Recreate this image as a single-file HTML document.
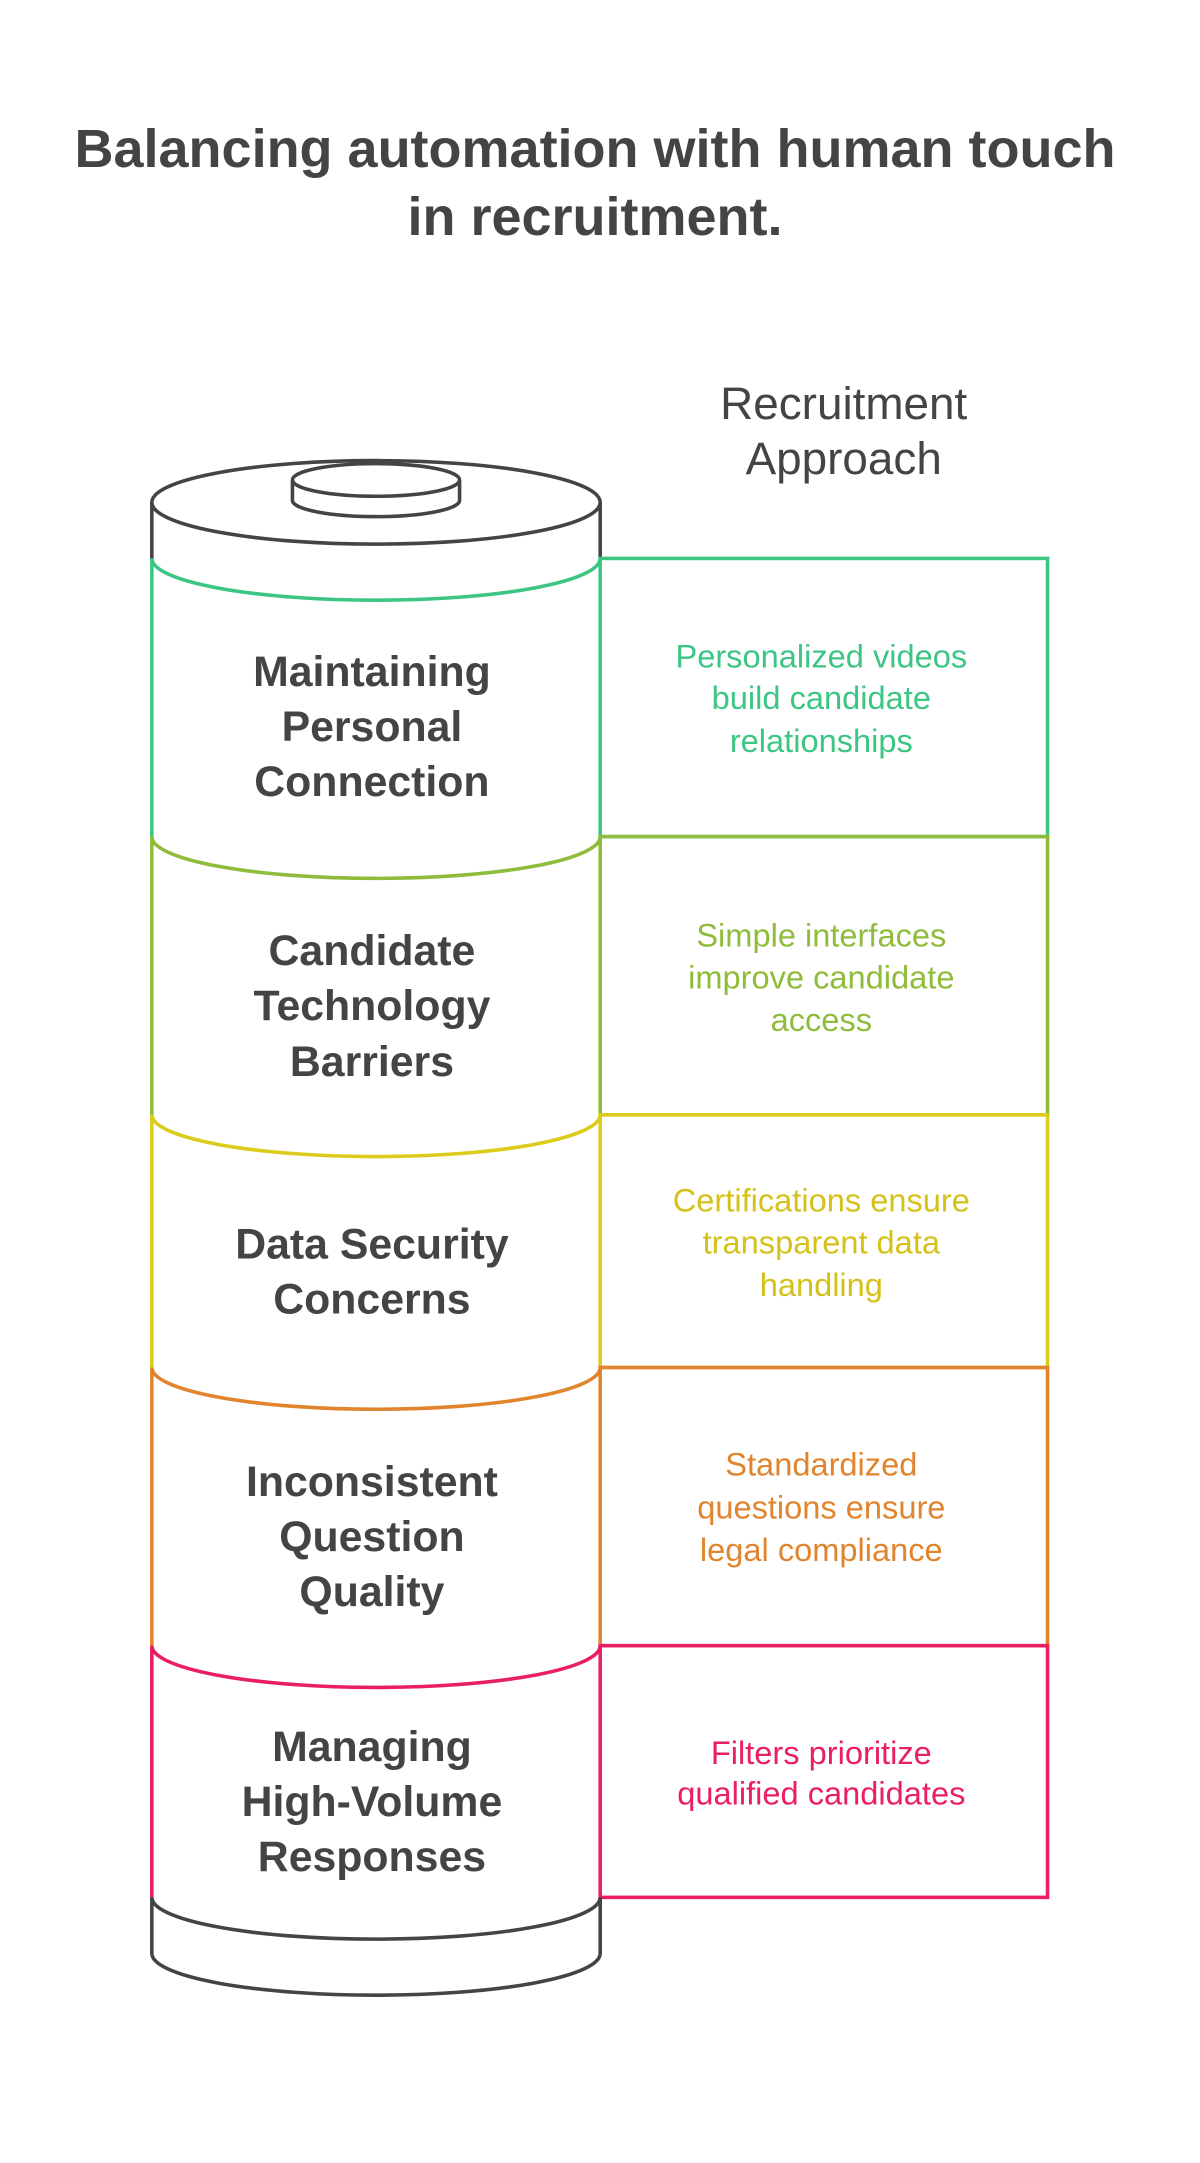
<!DOCTYPE html>
<html><head><meta charset="utf-8"><style>
html,body{margin:0;padding:0;background:#fff;}
svg{display:block}
</style></head><body>
<svg width="1200" height="2163" viewBox="0 0 1200 2163" xmlns="http://www.w3.org/2000/svg">
<rect width="1200" height="2163" fill="#fff"/>
<g font-family="Liberation Sans, sans-serif" font-weight="bold" fill="#444" text-anchor="middle" font-size="54">
<text x="595" y="167">Balancing automation with human touch</text>
<text x="595" y="235">in recruitment.</text>
</g>
<g transform="scale(1.019)">
<g font-family="Liberation Sans, sans-serif" fill="#444" text-anchor="middle" font-size="45">
<text x="828" y="411">Recruitment</text>
<text x="828" y="465">Approach</text>
</g>
<g fill="none" stroke-width="3.5">
<g stroke="#444">
<ellipse cx="369" cy="493" rx="220" ry="41" fill="#fff"/>
<path d="M287,471 L287,491 A82,16 0 0 0 451,491 L451,471"/>
<ellipse cx="369" cy="471" rx="82" ry="16" fill="#fff"/>
<line x1="149" y1="493" x2="149" y2="548"/>
<line x1="589" y1="493" x2="589" y2="548"/>
</g>
<g stroke="#3cc583">
<path d="M149,548 A220,41 0 0 0 589,548"/>
<line x1="149" y1="548" x2="149" y2="821"/>
<rect x="589" y="548" width="439" height="273"/>
</g>
<g stroke="#8fbc3a">
<path d="M149,821 A220,41 0 0 0 589,821"/>
<line x1="149" y1="821" x2="149" y2="1094"/>
<rect x="589" y="821" width="439" height="273"/>
</g>
<g stroke="#dccb1a">
<path d="M149,1094 A220,41 0 0 0 589,1094"/>
<line x1="149" y1="1094" x2="149" y2="1342"/>
<rect x="589" y="1094" width="439" height="248"/>
</g>
<g stroke="#e0842e">
<path d="M149,1342 A220,41 0 0 0 589,1342"/>
<line x1="149" y1="1342" x2="149" y2="1615"/>
<rect x="589" y="1342" width="439" height="273"/>
</g>
<g stroke="#e91e63">
<path d="M149,1615 A220,41 0 0 0 589,1615"/>
<line x1="149" y1="1615" x2="149" y2="1862"/>
<rect x="589" y="1615" width="439" height="247"/>
</g>
<g stroke="#444">
<path d="M149,1862 A220,41 0 0 0 589,1862"/>
<path d="M149,1862 L149,1917 A220,41 0 0 0 589,1917 L589,1862"/>
</g>
</g>
<g font-family="Liberation Sans, sans-serif" font-weight="bold" fill="#444" text-anchor="middle" font-size="42">
<text x="365" y="673">Maintaining</text>
<text x="365" y="727">Personal</text>
<text x="365" y="781">Connection</text>
<text x="365" y="947">Candidate</text>
<text x="365" y="1001">Technology</text>
<text x="365" y="1056">Barriers</text>
<text x="365" y="1235">Data Security</text>
<text x="365" y="1289">Concerns</text>
<text x="365" y="1468">Inconsistent</text>
<text x="365" y="1522">Question</text>
<text x="365" y="1576">Quality</text>
<text x="365" y="1728">Managing</text>
<text x="365" y="1782">High-Volume</text>
<text x="365" y="1836">Responses</text>
</g>
<g font-family="Liberation Sans, sans-serif" text-anchor="middle" font-size="32">
<g fill="#3cc583">
<text x="806" y="655">Personalized videos</text>
<text x="806" y="696">build candidate</text>
<text x="806" y="738">relationships</text>
</g>
<g fill="#8fbc3a">
<text x="806" y="929">Simple interfaces</text>
<text x="806" y="970">improve candidate</text>
<text x="806" y="1012">access</text>
</g>
<g fill="#d4c21a">
<text x="806" y="1189">Certifications ensure</text>
<text x="806" y="1230">transparent data</text>
<text x="806" y="1272">handling</text>
</g>
<g fill="#e0842e">
<text x="806" y="1448">Standardized</text>
<text x="806" y="1490">questions ensure</text>
<text x="806" y="1532">legal compliance</text>
</g>
<g fill="#e91e63">
<text x="806" y="1731">Filters prioritize</text>
<text x="806" y="1771">qualified candidates</text>
</g>
</g>
</g>
</svg>
</body></html>
